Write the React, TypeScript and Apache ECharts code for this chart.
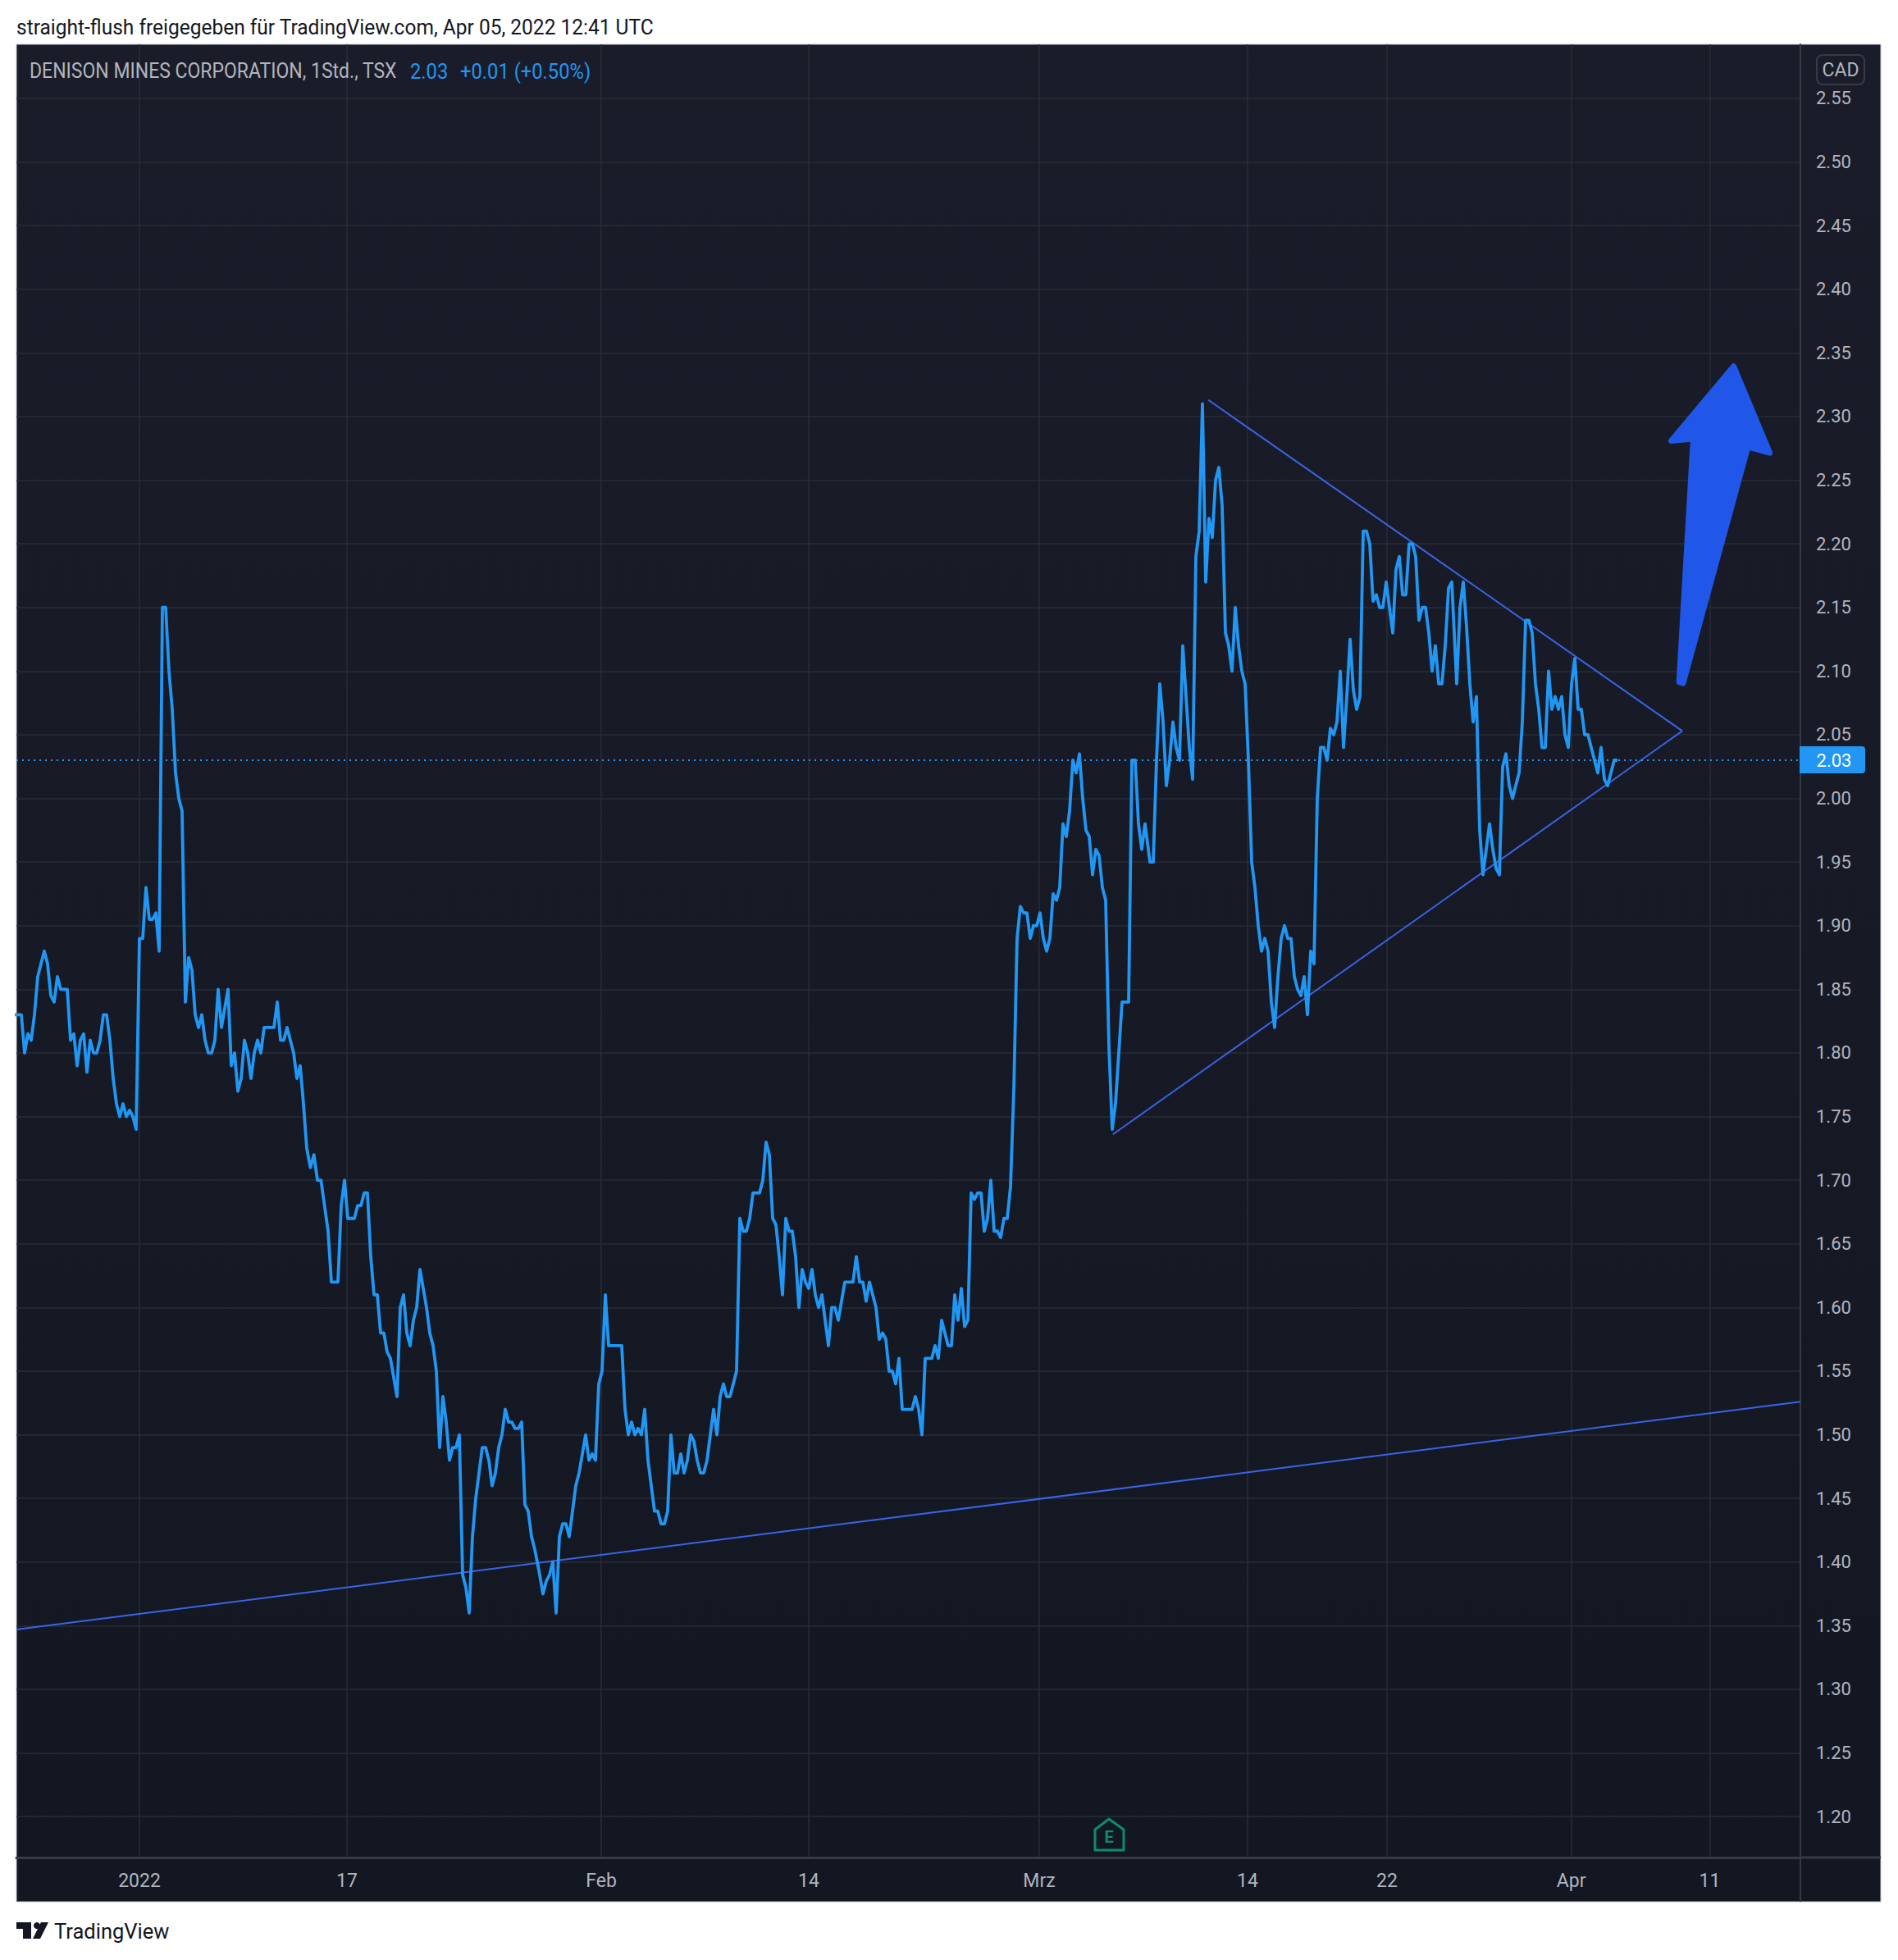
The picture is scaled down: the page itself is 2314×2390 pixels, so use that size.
import React, { useEffect, useRef } from "react";
import * as echarts from "echarts";

// Close prices of the hourly bars, grouped by run of evenly spaced bars.
const run1 = [1.83,1.83,1.83,1.80,1.815,1.81,1.83,1.86,1.87,1.88,1.87,1.845,1.84,1.86,1.85,1.85,1.85,1.81,1.815,1.79,1.81,1.815,1.785,1.81,1.80,1.80,1.81,1.83,1.83,1.81,1.78,1.76,1.75,1.76,1.75,1.755,1.75,1.74,1.89,1.89,1.93,1.905,1.905,1.91,1.88,2.15,2.15,2.10,2.07,2.02,2.00,1.99,1.84,1.875,1.865,1.83,1.82,1.83,1.81,1.80,1.80,1.81,1.85,1.82,1.835,1.85,1.79,1.80,1.77,1.78,1.81,1.80,1.78,1.80,1.81,1.80,1.82,1.82,1.82,1.82,1.84,1.81,1.81,1.82,1.81,1.80,1.78,1.79,1.76,1.725];
const run2 = [1.71,1.72,1.70,1.70,1.68,1.66];
const run3 = [1.62,1.62,1.62,1.68,1.70,1.67,1.67,1.67,1.68,1.68,1.69,1.69,1.64,1.61,1.61,1.58,1.58,1.565,1.56,1.545,1.53,1.60,1.61,1.58,1.57,1.59,1.60,1.63,1.615,1.60,1.58,1.57,1.55,1.49,1.53,1.51,1.48,1.49,1.49,1.50,1.39,1.38,1.36,1.42,1.45,1.47,1.49,1.49,1.48,1.46,1.47,1.49,1.50,1.52,1.51,1.51,1.505,1.505,1.51,1.445,1.44,1.42];
const run4 = [1.41,1.395];
const run5 = [1.375,1.385,1.39,1.40,1.36,1.42,1.43,1.43,1.42,1.44,1.46,1.47,1.485,1.50,1.48,1.485,1.48,1.54,1.55,1.61,1.57,1.57,1.57,1.57,1.57,1.52,1.50,1.51,1.50,1.505,1.50,1.52,1.48,1.46,1.44,1.44,1.43,1.43,1.44,1.50,1.47,1.47,1.485,1.47,1.48,1.50,1.495,1.48,1.47,1.47,1.48,1.50,1.52,1.50,1.53,1.54,1.53,1.53,1.54,1.55];
const run6 = [1.67,1.66,1.66,1.67,1.69,1.69,1.69,1.70,1.73,1.72,1.67,1.665,1.64,1.61,1.67,1.66,1.66,1.64,1.60,1.63,1.62,1.615,1.63,1.61,1.60,1.61,1.59,1.57,1.60,1.60,1.59,1.605,1.62,1.62,1.62];
const run7 = [1.62,1.64,1.62,1.62,1.605,1.62,1.61,1.60,1.575,1.58,1.575,1.55,1.55,1.54,1.56,1.52,1.52,1.52,1.52,1.53,1.52,1.50,1.56,1.56,1.56,1.57,1.56,1.59,1.58,1.57,1.57,1.61,1.59,1.615,1.585,1.59,1.69,1.685,1.69,1.69,1.66,1.67,1.70,1.66,1.66,1.655,1.67,1.67,1.695,1.77,1.89,1.915,1.91,1.91,1.89,1.90,1.90,1.91,1.89,1.88,1.89,1.925,1.92,1.93,1.98];
const run8 = [1.97,1.99,2.03,2.02,2.035,2.00,1.975,1.97,1.94,1.96,1.955,1.93,1.92,1.805,1.74,1.76,1.80,1.84,1.84,1.84,2.03,2.03,1.98,1.96,1.98];
const run9 = [1.95,1.95,2.03,2.09,2.06,2.01,2.03,2.06,2.04,2.03,2.12,2.08,2.04,2.015,2.19,2.21,2.31,2.17,2.22,2.205,2.25,2.26,2.23,2.13,2.12,2.10,2.15,2.12,2.10,2.09,2.03,1.95,1.93,1.90,1.88,1.89,1.88,1.84,1.82,1.86,1.89,1.90,1.89,1.89,1.86,1.85,1.845,1.86,1.83,1.88,1.87,2.00,2.04,2.04,2.03,2.055,2.05,2.06,2.10,2.04,2.08,2.125,2.085,2.07,2.08,2.21,2.21,2.20,2.155,2.16,2.15,2.15,2.17,2.15,2.13,2.18,2.19,2.16,2.16,2.20,2.20,2.19,2.14,2.15,2.15,2.13,2.10,2.12,2.09,2.09,2.12,2.165,2.17];
const run10 = [2.09,2.15,2.17,2.135,2.09,2.06,2.08,1.975,1.94,1.96,1.98,1.96,1.945,1.94,2.025,2.035,2.01,2.00,2.01,2.02,2.06,2.14,2.14,2.13,2.09,2.07,2.04,2.04,2.10,2.07,2.08,2.07,2.08,2.05,2.04,2.09,2.11,2.07,2.07,2.05,2.05,2.04,2.03,2.02,2.04,2.015,2.01,2.02,2.03,2.03];
const runs = [run1, run2, run3, run4, run5, run6, run7, run8, run9, run10];
const runFirstBar = [-0.5, 89.6, 96, 158, 160.5, 220.5, 255, 320, 345.5, 439];
const runBarStep = [1, 1.08, 1, 1.15, 1, 1, 1, 1, 1, 1];

const lastPrice = 2.03;
const priceTicks = [1.2,1.25,1.3,1.35,1.4,1.45,1.5,1.55,1.6,1.65,1.7,1.75,1.8,1.85,1.9,1.95,2.0,2.05,2.1,2.15,2.2,2.25,2.3,2.35,2.4,2.45,2.5,2.55];
const timeTickBars = [37.5, 100.75, 178.25, 241.5, 311.75, 375.25, 417.75, 473.9, 516.1];
const timeTickLabels = ["2022", "17", "Feb", "14", "Mrz", "14", "22", "Apr", "11"];

// Drawn trend lines and the arrow, in [bar, price].
const triangleUpper = [[363.3, 2.313], [507.75, 2.053]];
const triangleLower = [[334.2, 1.736], [507.75, 2.053]];
const longTrend = [[0, 1.347], [543.75, 1.526]];
const arrowOutline = [[523.4, 2.3395], [534.4, 2.2715], [527.75, 2.2762], [508, 2.0905], [506.8, 2.0915], [511.1, 2.2826], [504.4, 2.281]];

const headerText = "straight-flush freigegeben für TradingView.com, Apr 05, 2022 12:41 UTC";
const symbolText = "DENISON MINES CORPORATION, 1Std., TSX";
const priceText = "2.03";
const changeText = "+0.01 (+0.50%)";

const FONT = "Roboto, sans-serif";
const GREY = "#b2b5be";
const BLUE = "#2196f3";
const AXIS = "#363a45";

export default function App() {
  const ref = useRef<HTMLDivElement>(null);
  useEffect(() => {
    const chart = echarts.init(ref.current!, undefined, { renderer: "svg" });
    const pricePoints: number[][] = [];
    runs.forEach((values, r) =>
      values.forEach((v, i) => pricePoints.push([runFirstBar[r] + i * runBarStep[r], v]))
    );
    const trend = (data: number[][]) => ({
      type: "line",
      data,
      symbol: "none",
      silent: true,
      z: 4,
      lineStyle: { color: "#3a63e6", width: 2 },
    });
    chart.setOption({
      animation: false,
      backgroundColor: "#ffffff",
      grid: { left: 20, right: 119, top: 54, bottom: 125, containLabel: false },
      xAxis: {
        type: "value",
        min: 0,
        max: 543.75,
        axisLine: { show: true, onZero: false, lineStyle: { color: AXIS, width: 3 } },
        axisTick: { show: false, customValues: timeTickBars },
        axisLabel: {
          customValues: timeTickBars,
          color: GREY,
          fontFamily: FONT,
          fontSize: 23,
          margin: 17,
          formatter: (v: number) => {
            const i = timeTickBars.findIndex((b) => Math.abs(b - v) < 0.01);
            return i >= 0 ? timeTickLabels[i] : "";
          },
        },
        splitLine: { show: true, lineStyle: { color: "#282c37", width: 1.5 } },
      },
      yAxis: {
        type: "value",
        position: "right",
        min: 1.1679,
        max: 2.5925,
        axisLine: { show: true, onZero: false, lineStyle: { color: AXIS, width: 2 } },
        axisTick: { show: false, customValues: priceTicks },
        axisLabel: {
          customValues: priceTicks,
          color: GREY,
          fontFamily: FONT,
          fontSize: 22,
          margin: 19,
          align: "left",
          formatter: (v: number) => v.toFixed(2),
        },
        splitLine: { show: true, lineStyle: { color: "#282c37", width: 1.5 } },
      },
      series: [
        trend(longTrend),
        trend(triangleUpper),
        trend(triangleLower),
        {
          type: "custom",
          silent: true,
          z: 4,
          data: arrowOutline,
          renderItem: (_p: any, api: any) => {
            if (_p.dataIndex !== 0) return null;
            const points = arrowOutline.map((d) => api.coord(d));
            return {
              type: "polygon",
              shape: { points },
              style: { fill: "#2157e9", stroke: "#2157e9", lineWidth: 7, lineJoin: "round" },
            };
          },
        },
        {
          type: "line",
          data: pricePoints,
          symbol: "none",
          silent: true,
          z: 5,
          lineStyle: { color: BLUE, width: 3.8, join: "round" },
          markLine: {
            silent: true,
            symbol: "none",
            label: { show: false },
            lineStyle: { color: BLUE, type: [2, 5], width: 2 },
            data: [{ yAxis: lastPrice }],
          },
        },
      ],
      graphic: [
        {
          type: "rect",
          z: -10,
          shape: { x: 20, y: 54, width: 2273, height: 2265 },
          style: {
            fill: {
              type: "linear", x: 0, y: 0, x2: 0, y2: 1,
              colorStops: [{ offset: 0, color: "#1a1d29" }, { offset: 1, color: "#131722" }],
            },
            stroke: "#c6c9d1",
            lineWidth: 1,
          },
        },
        {
          type: "line", z: 1,
          shape: { x1: 2195, y1: 2265, x2: 2293, y2: 2265 },
          style: { stroke: AXIS, lineWidth: 3 },
        },
        {
          type: "line", z: 1,
          shape: { x1: 2195, y1: 2265, x2: 2195, y2: 2319 },
          style: { stroke: AXIS, lineWidth: 2 },
        },
        {
          type: "text", z: 5, x: 20, y: 33, scaleX: 0.98,
          style: { text: headerText, font: `25px ${FONT}`, fill: "#131722", textVerticalAlign: "middle" },
        },
        {
          type: "text", z: 5, x: 36, y: 87, scaleX: 0.92,
          style: { text: symbolText, font: `25px ${FONT}`, fill: GREY, textVerticalAlign: "middle" },
        },
        {
          type: "text", z: 5, x: 500, y: 87, scaleX: 0.95,
          style: { text: priceText, font: `25px ${FONT}`, fill: BLUE, textVerticalAlign: "middle" },
        },
        {
          type: "text", z: 5, x: 561, y: 87, scaleX: 0.95,
          style: { text: changeText, font: `25px ${FONT}`, fill: BLUE, textVerticalAlign: "middle" },
        },
        {
          type: "rect", z: 6,
          shape: { x: 2215, y: 67, width: 58, height: 36, r: 7 },
          style: { fill: "#1a1d29", stroke: AXIS, lineWidth: 2 },
        },
        {
          type: "text", z: 7, x: 2244, y: 85,
          style: { text: "CAD", font: `23px ${FONT}`, fill: GREY, textAlign: "center", textVerticalAlign: "middle" },
        },
        {
          type: "rect", z: 6,
          shape: { x: 2194, y: 910, width: 80, height: 33, r: [0, 4, 4, 0] },
          style: { fill: BLUE },
        },
        {
          type: "text", z: 7, x: 2236, y: 927,
          style: { text: priceText, font: `22px ${FONT}`, fill: "#ffffff", textAlign: "center", textVerticalAlign: "middle" },
        },
        {
          type: "polygon", z: 6,
          shape: { points: [[1352, 2218], [1370, 2231], [1370, 2256], [1335, 2256], [1335, 2231]] },
          style: { fill: "#131722", stroke: "#0e8a72", lineWidth: 3, lineJoin: "round" },
        },
        {
          type: "text", z: 7, x: 1352, y: 2240,
          style: { text: "E", font: `bold 20px ${FONT}`, fill: "#0e8a72", textAlign: "center", textVerticalAlign: "middle" },
        },
        {
          type: "polygon", z: 6,
          shape: { points: [[20, 2344], [38, 2344], [38, 2364], [28, 2364], [28, 2352], [20, 2352]] },
          style: { fill: "#131722" },
        },
        { type: "circle", z: 6, shape: { cx: 45, cy: 2348, r: 4 }, style: { fill: "#131722" } },
        {
          type: "polygon", z: 6,
          shape: { points: [[50, 2344], [59, 2344], [49, 2364], [40, 2364]] },
          style: { fill: "#131722" },
        },
        {
          type: "text", z: 6, x: 66, y: 2355,
          style: { text: "TradingView", font: `25.5px ${FONT}`, fill: "#131722", textVerticalAlign: "middle" },
        },
      ],
    });
    return () => chart.dispose();
  }, []);
  return (
    <div
      ref={ref}
      style={{ position: "fixed", left: 0, top: 0, width: 2314, height: 2390 }}
    />
  );
}
